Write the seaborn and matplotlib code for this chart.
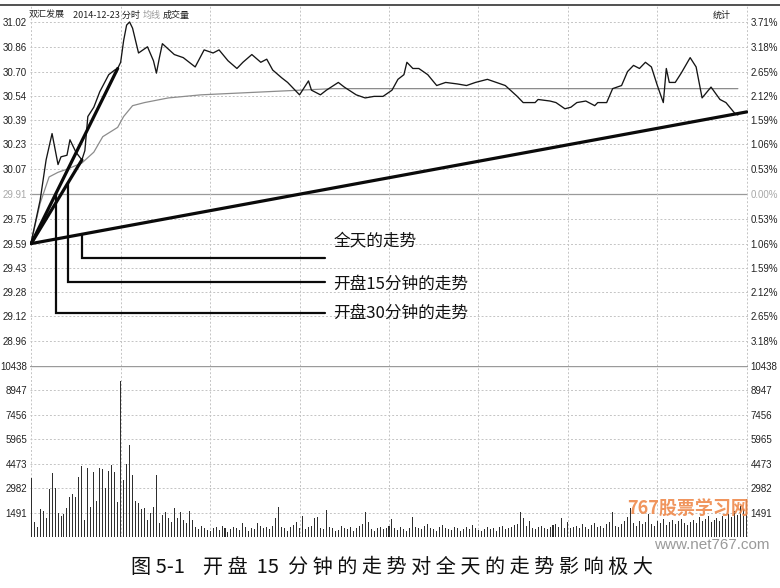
import matplotlib
matplotlib.use("Agg")
import matplotlib.pyplot as plt
import seaborn as sns

# ---------------- data ----------------
# price line knots (minute of session, price)
price_min = [0, 3, 5, 7, 9, 10, 12, 13, 15, 17, 18, 19, 21, 23, 26, 28, 29, 30, 31, 32,
             33, 34, 35, 36, 39, 41, 42, 43, 44, 48, 51, 55, 58, 61, 63, 66, 69, 71, 74, 77,
             79, 81, 84, 86, 90, 93, 94, 97, 99, 103, 105, 109, 112, 115, 118, 121, 123, 125, 126, 128,
             130, 133, 136, 139, 143, 146, 149, 153, 156, 159, 163, 165, 169, 170, 174, 176, 179, 181, 183, 186,
             189, 190, 193, 195, 198, 200, 202, 204, 206, 208, 210, 212, 213, 214, 216, 218, 221, 223, 225, 228,
             231, 233, 236, 237]
price_val = [29.60, 29.87, 30.13, 30.30, 30.10, 30.15, 30.16, 30.26, 30.18, 30.13, 30.19, 30.41, 30.47, 30.57, 30.68, 30.71, 30.72, 30.76, 30.90, 31.00,
             31.02, 30.98, 30.90, 30.82, 30.86, 30.77, 30.69, 30.79, 30.88, 30.81, 30.79, 30.73, 30.84, 30.82, 30.84, 30.77, 30.72, 30.76, 30.81, 30.76,
             30.78, 30.71, 30.66, 30.63, 30.55, 30.64, 30.58, 30.55, 30.58, 30.63, 30.60, 30.55, 30.53, 30.54, 30.54, 30.58, 30.65, 30.68, 30.76, 30.72,
             30.72, 30.68, 30.61, 30.63, 30.62, 30.61, 30.63, 30.65, 30.63, 30.61, 30.54, 30.50, 30.50, 30.52, 30.51, 30.50, 30.46, 30.47, 30.50, 30.51,
             30.48, 30.50, 30.50, 30.59, 30.61, 30.70, 30.74, 30.72, 30.76, 30.73, 30.61, 30.50, 30.72, 30.63, 30.63, 30.69, 30.79, 30.73, 30.53, 30.60,
             30.52, 30.50, 30.43, 30.42]

# average price line knots
avg_min = [0, 3, 6, 9, 12, 17, 21, 24, 29, 31, 34, 38, 46, 57, 79, 101, 237]
avg_val = [29.60, 29.85, 30.02, 30.05, 30.07, 30.11, 30.18, 30.28, 30.34, 30.41, 30.48, 30.50, 30.53, 30.55, 30.57, 30.59, 30.59]

# volume per minute (241 bars)
volume = [3590, 910, 600, 1700, 1580, 1160, 2920, 3900, 2980, 1460, 1280, 1400, 1770, 2440, 2620, 2440, 3650, 4320, 1035, 4200,
          1830, 3960, 2190, 4200, 4140, 2980, 4020, 4380, 3960, 2130, 9500, 3470, 4450, 5600, 3780, 2190, 2070, 1700, 1770, 1035,
          1460, 1830, 3780, 850, 1340, 1520, 1160, 910, 1770, 1160, 1520, 1035, 850, 1580, 1035, 620, 480, 700, 560, 420,
          380, 520, 610, 450, 700, 560, 330, 480, 640, 520, 410, 850, 600, 380, 520, 460, 850, 700, 540, 620,
          480, 700, 1160, 1830, 640, 520, 380, 600, 720, 910, 560, 1280, 480, 620, 700, 1160, 1220, 540, 460, 1640,
          600, 520, 380, 440, 700, 560, 480, 620, 360, 540, 700, 820, 1520, 900, 460, 380, 520, 640, 480, 560,
          700, 1100, 540, 420, 600, 480, 380, 520, 1220, 640, 560, 480, 700, 820, 540, 460, 380, 600, 720, 560,
          480, 420, 620, 560, 380, 500, 640, 480, 720, 560, 420, 380, 500, 600, 460, 540, 380, 620, 700, 480,
          560, 640, 720, 820, 1520, 1160, 700, 980, 560, 480, 620, 700, 540, 460, 600, 720, 820, 640, 1160, 560,
          900, 520, 640, 700, 560, 820, 640, 480, 720, 860, 600, 700, 540, 780, 900, 1520, 700, 640, 820, 960,
          1220, 1770, 880, 700, 960, 780, 900, 1400, 820, 700, 980, 860, 1120, 760, 900, 1040, 820, 960, 1100, 880,
          760, 940, 1060, 880, 1200, 960, 1080, 1300, 900, 1040, 1180, 980, 1260, 1100, 1420, 1200, 1560, 1340, 1900, 1700,
          2300]
minutes = list(range(len(volume)))

prev_close = 29.91
price_ticks = [31.02, 30.86, 30.70, 30.54, 30.39, 30.23, 30.07, 29.91, 29.75, 29.59, 29.43, 29.28, 29.12, 28.96]
pct_labels = ["3.71%", "3.18%", "2.65%", "2.12%", "1.59%", "1.06%", "0.53%", "0.00%",
              "0.53%", "1.06%", "1.59%", "2.12%", "2.65%", "3.18%"]
vol_ticks = [10438, 8947, 7456, 5965, 4473, 2982, 1491]

# trend lines drawn by hand on the chart: (start minute, start price, end minute, end price)
trend_day = (0, 29.59, 240, 30.44)
trend_15 = (0, 29.59, 17, 30.13)
trend_30 = (0, 29.59, 29, 30.72)

labels = ["全天的走势", "开盘15分钟的走势", "开盘30分钟的走势"]
caption = "图 5-1    开 盘  15  分 钟 的 走 势 对 全 天 的 走 势 影 响 极 大"

# ---------------- style ----------------
sns.set_style("white")
plt.rcParams["font.family"] = ["Noto Sans CJK SC", "DejaVu Sans"]

W, H = 780, 588
fig = plt.figure(figsize=(W / 100, H / 100), dpi=100)

x0, x1 = 30, 748
ax = fig.add_axes([x0 / W, 1 - 366 / H, (x1 - x0) / W, 361 / H])
axv = fig.add_axes([x0 / W, 1 - 537 / H, (x1 - x0) / W, 171 / H])

grid_c = "#c4c4c4"
dot = (0, (2, 2))
tick_font = {"family": "Liberation Sans", "size": 7}

# price panel
ymin, ymax = 28.80, 31.02 + 17 * (2.22 / 344)
for v in price_ticks:
    if v == prev_close:
        ax.axhline(v, color="#9a9a9a", lw=0.9, zorder=0)
    else:
        ax.axhline(v, color=grid_c, lw=0.7, ls=dot, zorder=0)
for t in range(0, 241, 30):
    ax.axvline(t, color=grid_c, lw=0.7, ls=dot, zorder=0)
    axv.axvline(t, color=grid_c, lw=0.7, ls=dot, zorder=0)

sns.lineplot(x=avg_min, y=avg_val, ax=ax, color="#8c8c8c", linewidth=0.9, errorbar=None)
sns.lineplot(x=price_min, y=price_val, ax=ax, color="#151515", linewidth=0.95, errorbar=None)

# trend lines
for tl in (trend_day, trend_15, trend_30):
    ax.plot([tl[0], tl[2]], [tl[1], tl[3]], color="#0a0a0a", lw=2.3, solid_capstyle="round")


def on_line(tl, t):
    return tl[1] + (tl[3] - tl[1]) * (t - tl[0]) / (tl[2] - tl[0])


# connector lines to the labels
conns = [(trend_day, 17, 29.50), (trend_15, 12.4, 29.34), (trend_30, 8.4, 29.14)]
for tl, t, lvl in conns:
    ax.plot([t, t, 98.6], [on_line(tl, t), lvl, lvl], color="#0a0a0a", lw=1.6,
            solid_joinstyle="miter")

label_y = [29.607, 29.329, 29.142]
for txt, y in zip(labels, label_y):
    ax.text(101.3, y, txt, fontsize=12, va="center", ha="left", color="#111",
            family=["Noto Sans CJK SC", "DejaVu Sans"])

ax.set_xlim(-0.4, 240.4)
ax.set_ylim(ymin, ymax)
ax.set_yticks(price_ticks)
ax.set_yticklabels([f"{v:.2f}" for v in price_ticks], fontdict=tick_font)
ax.set_xticks([])
ax.set_xlabel("")
ax.set_ylabel("")
ax.tick_params(axis="y", length=0, pad=2, colors="#222")
axr = ax.twinx()
axr.set_ylim(ymin, ymax)
axr.set_yticks(price_ticks)
axr.set_yticklabels(pct_labels, fontdict=tick_font)
axr.tick_params(axis="y", length=0, pad=2, colors="#222")
for lab in ax.get_yticklabels() + axr.get_yticklabels():
    if lab.get_text() in ("29.91", "0.00%"):
        lab.set_color("#a8a8a8")

# volume panel
for v in vol_ticks[1:]:
    axv.axhline(v, color=grid_c, lw=0.7, ls=dot, zorder=0)
axv.axhline(vol_ticks[0], color="#9a9a9a", lw=1.0, zorder=0)
sns.barplot(x=minutes, y=volume, native_scale=True, ax=axv, color="#2e2e2e",
            saturation=1, width=0.34, linewidth=0, errorbar=None)
axv.set_xlim(-0.4, 240.4)
axv.set_ylim(0, 10438)
axv.set_yticks(vol_ticks)
axv.set_yticklabels([str(v) for v in vol_ticks], fontdict=tick_font)
axv.set_xticks([])
axv.set_xlabel("")
axv.set_ylabel("")
axv.tick_params(axis="y", length=0, pad=2, colors="#222")
axvr = axv.twinx()
axvr.set_ylim(0, 10438)
axvr.set_yticks(vol_ticks)
axvr.set_yticklabels([str(v) for v in vol_ticks], fontdict=tick_font)
axvr.tick_params(axis="y", length=0, pad=2, colors="#222")

for a in (ax, axr, axv, axvr):
    for s in a.spines.values():
        s.set_visible(False)

# header and frame
fig.add_artist(plt.Line2D([0, 1], [1 - 5 / H, 1 - 5 / H], color="#333", lw=1.2))
hy = 1 - 15 / H
fig.text(29 / W, hy, "双汇发展", fontsize=6.5, va="center", color="#222")
fig.text(73 / W, hy, "2014-12-23 分时", fontsize=6.5, va="center", color="#222")
fig.text(143 / W, hy, "均线", fontsize=6.5, va="center", color="#9a9a9a")
fig.text(163 / W, hy, "成交量", fontsize=6.5, va="center", color="#222")
fig.text(713 / W, hy, "统计", fontsize=6.5, va="center", color="#222")

# watermark
fig.text(688 / W, 1 - 509 / H, "767股票学习网", fontsize=13, fontweight="bold", style="italic",
         ha="center", va="center", color="#ef8a4c", alpha=0.9)
fig.text(712 / W, 1 - 545 / H, "www.net767.com", fontsize=11, ha="center", va="center",
         color="#9a9a9a", family="Liberation Sans")

# caption
fig.text(392 / W, 1 - 567 / H, caption, fontsize=14.5, ha="center", va="center", color="#111")

fig.savefig("out.png", dpi=100)
